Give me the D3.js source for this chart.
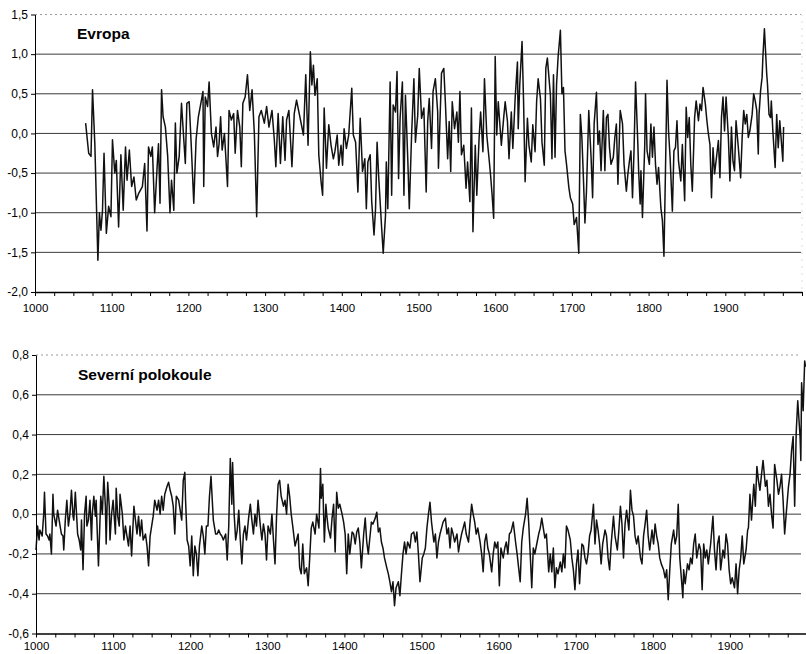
<!DOCTYPE html>
<html lang="cs">
<head>
<meta charset="UTF-8">
<title>Evropa / Severní polokoule</title>
<script src="https://d3js.org/d3.v7.min.js"></script>
<style>
  body { margin: 0; background: #fff; }
  svg { display: block; font-family: Arial, "Liberation Sans", sans-serif; }
  .grid line { stroke: #3a3a3a; stroke-width: 1; }
  .axis path, .axis line { stroke: #000; }
  .axis text { fill: #000; }
  .series { fill: none; stroke: #111; stroke-width: 1.5; stroke-linejoin: round; }
  .title { font-weight: bold; font-size: 15.5px; fill: #000; }
</style>
</head>
<body>
<svg width="806" height="654"></svg>
<script>
// --- data ---
const evropaYears = [1066,1070,1073,1075,1078,1082,1084,1086,1088,1090,1093,1096,1099,1101,1104,1106,1109,1112,1115,1118,1120,1123,1126,1129,1132,1135,1140,1143,1146,1148,1151,1153,1156,1159,1161,1163,1165,1167,1170,1173,1176,1178,1181,1183,1185,1188,1191,1194,1196,1198,1201,1204,1207,1210,1213,1217,1219,1220,1222,1225,1227,1230,1233,1236,1238,1240,1242,1244,1247,1251,1253,1256,1259,1261,1264,1267,1269,1271,1274,1277,1280,1283,1286,1289,1292,1295,1299,1302,1305,1309,1312,1314,1317,1320,1323,1326,1328,1331,1335,1338,1341,
  1350,1353,1356,1359,1361,1363,1365,1368,1370,1373,1375,1377,1380,1383,1386,1389,1391,1394,1396,1399,1401,1403,1406,1409,1413,1415,1418,1421,1424,1427,1430,1432,1434,1437,1439,1442,1444,1446,1448,1452,1454,1457,1458,1460,1463,1465,1467,1470,1472,1474,1476,1479,1481,1483,1486,1488,1491,1494,1496,1499,1501,1504,1507,1510,1512,1514,1517,1519,1522,1525,1526,1530,1533,1535,1538,1540,1542,1544,1547,1550,1552,1554,1556,1559,1562,1564,1567,1569,1571,1574,1576,1579,1581,1584,1586,1589,1592,1594,1596,1598,1600,1602,1604,1608,1611,1613,1616,1618,1621,1623,1626,1629,1630,1632,1635,1637,1639,1642,1644,1647,1649,1652,1654,1656,1659,1661,1664,1666,1668,
  1672,1674,1676,1678,1680,1682,1685,1687,1689,1691,1693,1696,1698,1701,1703,1706,1709,1711,1713,1715,1717,1719,1722,1723,1725,1727,1729,1732,1734,1736,1738,1741,1743,1745,1747,1749,1751,1754,1756,1758,1760,1763,1766,1768,1771,1773,1775,1777,1779,1781,1783,1786,1787,1789,1790,1792,1795,1796,1798,1801,1803,1805,1807,1809,1811,1813,1816,1818,1820,1822,1824,1826,1828,1831,1833,1835,1837,1839,1842,1844,1847,1849,1851,1853,1855,1857,1860,1862,1865,1867,1869,1871,1874,1876,1878,1880,1882,1884,1886,1889,1891,1893,1895,1897,1899,1901,1904,1906,1908,1910,1912,1914,1917,1920,1922,1924,1926,1928,1930,1932,1935,1937,1939,1941,1943,1944,1946,1948,1949,1951,1954,1955,1957,1959,1960,1962,1965,1967,1969,1971,1973,1975,1976];
const evropaValues = [0.13,-0.25,-0.29,0.55,-0.13,-1.6,-1.0,-1.22,-0.97,-0.25,-1.26,-0.92,-1.05,-0.08,-0.5,-0.34,-1.18,-0.27,-0.97,-0.17,-0.59,-0.21,-0.67,-0.55,-0.84,-0.76,-0.67,-0.38,-1.23,-0.17,-0.29,-0.17,-1.0,-0.46,-0.13,-0.88,0.55,0.21,0.08,-0.29,-1.0,-0.59,-0.97,0.13,-0.5,-0.29,0.38,-0.08,-0.38,0.38,0.4,-0.21,-0.88,-0.08,0.21,0.42,0.53,-0.67,0.46,0.34,0.65,0.0,-0.17,0.08,-0.29,-0.13,0.21,-0.21,0.0,-0.67,0.29,0.17,0.25,-0.25,0.29,0.08,-0.42,0.38,0.46,0.74,0.29,0.55,0.0,-1.05,0.21,0.29,0.13,0.34,0.08,0.29,-0.08,-0.42,0.25,-0.38,0.21,-0.34,0.17,0.29,-0.42,0.25,0.42,
  -0.02,0.74,-0.15,1.03,0.61,0.86,0.48,0.69,-0.27,-0.61,-0.78,0.32,-0.44,0.11,-0.15,-0.32,-0.23,-0.02,-0.4,-0.15,-0.4,0.06,-0.19,-0.02,0.57,-0.02,-0.11,-0.74,0.19,-0.48,-0.32,-0.95,-0.36,-0.27,-0.86,-1.28,-0.95,-0.11,-0.53,-1.2,-1.51,-1.03,-0.36,-0.95,0.65,-0.78,0.36,0.27,0.78,-0.57,0.19,0.65,-0.78,0.48,-0.32,-0.95,-0.02,0.69,-0.11,0.23,0.82,0.19,0.32,-0.74,0.15,0.44,-0.19,0.53,0.69,0.27,-0.44,0.76,0.82,0.4,-0.32,0.15,-0.48,0.4,0.06,0.27,-0.11,0.53,-0.27,-0.15,-0.69,-0.36,-0.86,0.32,-1.24,-0.15,-0.78,-0.06,0.27,-0.23,0.69,-0.02,-0.32,-0.53,-0.78,-1.07,0.97,-0.02,0.4,-0.15,0.19,0.4,0.15,-0.32,0.27,-0.19,0.44,0.9,0.06,0.61,1.16,0.4,-0.61,0.19,-0.15,-0.36,0.11,-0.23,0.4,0.69,0.44,-0.11,-0.4,0.82,0.95,0.48,-0.32,0.74,
  -0.3,0.62,0.96,1.3,0.5,0.58,-0.22,-0.39,-0.68,-0.81,-0.89,-1.15,-1.06,-1.51,0.24,-0.05,-0.56,-1.13,-0.73,0.29,0.08,-0.3,-0.81,0.12,0.52,-0.14,0.03,-0.47,0.29,-0.47,0.2,0.24,-0.18,-0.39,-0.3,-0.05,0.12,-0.64,0.29,0.12,-0.39,-0.73,-0.51,-0.35,-0.22,-0.81,-0.22,0.65,-0.14,-0.47,-0.89,-0.47,-1.06,-0.14,0.5,-0.22,-0.39,0.12,-0.3,0.08,-0.39,-0.64,-0.43,-0.94,-1.1,-1.55,-0.47,0.67,0.03,-0.3,-0.98,-0.22,-0.18,0.16,-0.35,-0.6,-0.14,-0.85,0.33,-0.05,0.2,-0.39,-0.73,0.2,0.41,0.16,0.37,0.29,0.58,0.37,0.16,-0.01,-0.14,-0.81,-0.18,-0.51,-0.26,-0.09,-0.56,0.2,0.46,0.03,0.46,-0.05,-0.6,0.08,-0.35,-0.47,0.16,-0.18,-0.56,-0.05,0.29,0.12,0.24,-0.05,0.03,0.24,0.5,0.41,0.29,-0.26,0.24,0.54,0.71,0.96,1.32,0.75,0.62,0.24,0.2,0.41,0.03,-0.43,0.24,-0.18,0.16,-0.09,-0.35,0.08,0.67,-0.01,-0.24];

const nhYears = [1000,1002,1004,1005,1008,1010,1011,1013,1015,1017,1018,1020,1022,1023,1026,1028,1030,1033,1035,1036,1038,1040,1042,1044,1046,1048,1049,1051,1054,1056,1058,1059,1061,1063,1065,1066,1068,1070,1072,1073,1075,1077,1078,1081,1083,1084,1086,1088,1090,1091,1093,1095,1096,1098,1100,1103,1104,1106,1108,1109,1112,1114,1116,1118,1120,1122,1124,1127,1129,1131,1133,1135,1137,1139,1142,1144,1146,1148,1150,1152,1154,1157,1159,1161,1163,1165,1167,1170,1172,1174,1176,1178,1180,1182,1185,1187,1189,1191,1193,1194,1196,1198,1200,1202,1204,1206,1208,1210,1212,1215,1217,1219,1221,1223,1225,1227,1230,1233,1235,1237,1239,1241,1243,1246,1248,1250,1252,1254,1255,1257,1259,1261,1263,1265,1267,1269,1271,1273,1276,1278,1280,1282,1284,1286,1288,1291,1293,1295,1297,1299,1301,1304,1306,1308,1310,1312,1314,1316,1318,1321,1323,1325,1327,1329,1331,1333,1336,1338,1340,
  1342,1344,1346,1348,1351,1353,1355,1357,1359,1362,1364,1367,1369,1370,1372,1374,1376,1377,1379,1382,1384,1386,1388,1390,1392,1394,1397,1399,1401,1403,1405,1407,1410,1412,1414,1416,1418,1420,1422,1425,1427,1429,1431,1433,1435,1437,1440,1442,1444,1446,1448,1450,1452,1455,1457,1459,1461,1463,1465,1467,1470,1472,1474,1476,1478,1480,1482,1485,1487,1490,1492,1494,1496,1498,1501,1503,1505,1507,1509,1511,1513,1516,1518,1520,1522,1524,1526,1528,1531,1533,1535,1537,1539,1541,1543,1546,1548,1550,1552,1554,1556,1558,1561,1563,1565,1567,1569,1571,1573,1576,1578,1580,1582,1584,1586,1588,1591,1593,1595,1597,1599,1601,1603,1606,1608,1610,1612,1614,1616,1619,1622,1624,1626,1628,1630,1632,1635,1637,1639,1641,1643,1645,1647,1650,1652,1654,1656,1658,1660,1662,1665,1667,1669,1671,1673,1675,1677,1680,1682,1684,1686,
  1688,1690,1693,1695,1697,1699,1701,1703,1705,1708,1710,1712,1714,1716,1718,1720,1723,1725,1727,1729,1731,1733,1735,1738,1740,1742,1744,1746,1749,1751,1754,1756,1758,1760,1762,1764,1766,1769,1771,1773,1775,1777,1779,1781,1784,1786,1788,1790,1792,1794,1796,1799,1801,1803,1805,1807,1809,1811,1814,1816,1818,1820,1822,1824,1827,1829,1831,1833,1835,1837,1839,1840,1842,1845,1847,1849,1851,1853,1855,1857,1860,1862,1864,1866,1868,1870,1872,1875,1878,1880,1882,1884,1886,1888,1891,1893,1895,1897,1899,1901,1903,1906,1908,1910,1912,1914,1916,1918,1921,1923,1924,1926,1928,1931,1933,1935,1937,1939,1941,1943,1946,1948,1950,1952,1954,1956,1958,1961,1963,1965,1967,1969,1971,1973,1976,1978,1980,1982,1984,1986,1988,1991,1992,1993,1995,1997,1998];
const nhValues = [-0.18,-0.06,-0.13,-0.08,-0.11,0.0,0.11,-0.1,-0.11,-0.13,-0.1,-0.2,0.1,0.0,-0.06,0.02,-0.03,-0.1,-0.11,-0.18,-0.03,0.07,-0.06,0.0,0.12,-0.01,-0.03,0.11,-0.1,-0.13,-0.18,-0.03,-0.28,0.0,0.09,-0.06,-0.03,0.07,-0.13,0.0,0.09,-0.01,0.07,-0.26,-0.03,0.09,0.0,0.19,0.04,-0.15,0.16,0.04,-0.13,0.0,0.07,-0.1,0.13,-0.01,-0.06,0.1,0.0,-0.13,-0.06,-0.11,-0.16,-0.06,-0.21,0.04,-0.03,-0.1,-0.01,-0.11,-0.03,-0.13,-0.1,-0.16,-0.26,-0.11,-0.06,-0.01,0.07,0.02,0.07,0.0,0.09,0.02,0.1,0.14,0.16,0.12,0.09,0.04,-0.1,0.09,0.07,0.02,-0.03,0.17,0.21,0.07,-0.13,-0.16,-0.26,-0.11,-0.31,-0.16,-0.2,-0.31,-0.16,-0.06,-0.11,-0.2,-0.06,-0.06,0.09,0.19,-0.03,-0.1,-0.1,-0.08,-0.1,-0.11,-0.13,-0.1,-0.23,-0.06,0.28,0.05,0.26,0.0,-0.13,-0.08,0.02,-0.13,-0.25,-0.1,-0.06,-0.13,-0.01,0.05,-0.03,-0.1,0.0,-0.06,0.07,-0.06,-0.13,-0.05,-0.1,-0.23,-0.06,-0.1,0.0,-0.13,-0.25,-0.01,0.15,0.17,0.09,0.04,0.07,0.0,0.15,0.09,0.0,-0.06,-0.16,-0.13,-0.1,
  -0.27,-0.3,-0.15,-0.3,-0.27,-0.36,-0.22,-0.07,-0.04,-0.1,0.0,-0.07,0.23,0.08,0.15,-0.14,0.05,0.0,-0.07,-0.12,-0.02,0.05,-0.19,0.11,0.03,0.05,0.0,-0.04,-0.1,-0.3,-0.1,-0.2,-0.09,-0.1,-0.15,-0.09,-0.07,-0.14,-0.27,-0.1,-0.02,-0.14,-0.2,-0.12,-0.04,-0.05,-0.02,0.01,-0.09,-0.07,-0.14,-0.17,-0.22,-0.27,-0.3,-0.34,-0.39,-0.34,-0.46,-0.37,-0.34,-0.41,-0.3,-0.2,-0.14,-0.2,-0.14,-0.17,-0.1,-0.09,-0.14,-0.09,-0.2,-0.34,-0.22,-0.2,-0.17,-0.07,0.0,0.06,-0.04,-0.14,-0.1,-0.22,-0.14,-0.1,-0.07,-0.04,-0.02,-0.1,-0.07,-0.17,-0.07,-0.1,-0.14,-0.1,-0.19,-0.14,-0.1,-0.07,-0.04,-0.1,-0.14,-0.04,0.05,0.0,-0.04,-0.1,-0.07,-0.14,-0.2,-0.29,-0.14,-0.1,-0.17,-0.2,-0.29,-0.2,-0.14,-0.17,-0.14,-0.36,-0.17,-0.22,-0.17,-0.14,-0.2,-0.1,-0.09,-0.04,-0.14,-0.2,-0.27,-0.34,-0.14,-0.07,0.0,0.08,-0.04,-0.2,-0.37,-0.17,-0.2,-0.14,-0.1,-0.07,-0.02,-0.07,-0.12,-0.1,-0.29,-0.2,-0.29,-0.17,-0.37,-0.27,-0.3,-0.24,-0.29,-0.2,-0.27,
  -0.06,-0.08,-0.13,-0.22,-0.28,-0.38,-0.25,-0.18,-0.35,-0.15,-0.16,-0.22,-0.25,-0.2,-0.11,-0.08,0.05,-0.15,-0.03,-0.08,-0.15,-0.25,-0.15,-0.08,-0.11,-0.22,-0.28,-0.15,-0.01,-0.11,-0.18,-0.08,0.04,-0.05,-0.22,-0.05,0.02,-0.08,0.12,0.02,-0.01,-0.11,-0.15,-0.11,-0.22,-0.25,-0.11,-0.05,0.02,-0.11,-0.18,-0.08,-0.15,-0.05,-0.11,-0.15,-0.22,-0.25,-0.28,-0.32,-0.28,-0.43,-0.28,-0.15,-0.08,-0.15,-0.11,0.05,-0.22,-0.32,-0.42,-0.28,-0.35,-0.25,-0.28,-0.22,-0.25,-0.15,-0.1,-0.22,-0.15,-0.18,-0.38,-0.15,-0.22,-0.18,-0.25,-0.15,-0.01,-0.18,-0.28,-0.15,-0.11,-0.28,-0.18,-0.22,-0.1,-0.15,-0.28,-0.35,-0.32,-0.37,-0.25,-0.4,-0.28,-0.22,-0.11,-0.25,-0.18,-0.08,-0.07,0.1,-0.03,0.15,0.04,0.24,0.17,0.12,0.2,0.27,0.14,0.17,0.04,0.1,0.0,-0.07,0.25,0.17,0.1,0.14,0.2,0.07,-0.1,0.0,0.14,0.2,0.32,0.39,0.04,0.41,0.57,0.39,0.27,0.66,0.52,0.77,0.74];

const evropaTicks = [1.5, 1.0, 0.5, 0.0, -0.5, -1.0, -1.5, -2.0];
const nhTicks = [0.8, 0.6, 0.4, 0.2, 0.0, -0.2, -0.4, -0.6];
const yearLabels = [1000, 1100, 1200, 1300, 1400, 1500, 1600, 1700, 1800, 1900];
const yearTicks = d3.range(1000, 2001, 25);

const panels = [
  { title: "Evropa", years: evropaYears, values: evropaValues, yTicks: evropaTicks,
    left: 35, right: 802, top: 14.5, bottom: 292, titleX: 77, titleY: 39, labelY: 12 },
  { title: "Severní polokoule", years: nhYears, values: nhValues, yTicks: nhTicks,
    left: 36, right: 807, top: 355, bottom: 633.5, titleX: 78, titleY: 380, labelY: 8 }
];

const svg = d3.select("svg");
svg.append("rect").attr("width", 806).attr("height", 654).attr("fill", "#fff");

const fmt = d => d.toFixed(1).replace(".", ",");

panels.forEach(p => {
  const x = d3.scaleLinear().domain([1000, 2000]).range([p.left, p.right]);
  const y = d3.scaleLinear().domain(d3.extent(p.yTicks)).range([p.bottom, p.top]);
  const yMax = d3.max(p.yTicks), yMin = d3.min(p.yTicks);

  // gridlines (inner ones solid, top edge faint dotted)
  svg.append("g").attr("class", "grid")
    .selectAll("line")
    .data(p.yTicks.filter(t => t !== yMin))
    .enter().append("line")
    .attr("x1", p.left).attr("x2", Math.min(p.right, 801))
    .attr("y1", d => y(d)).attr("y2", d => y(d))
    .style("stroke", d => d === yMax ? "#9a9a9a" : null)
    .style("stroke-dasharray", d => d === yMax ? "2,3" : null);

  // faint right border
  if (p.right < 806) {
    svg.append("line")
      .attr("x1", p.right).attr("x2", p.right)
      .attr("y1", p.top).attr("y2", p.bottom)
      .attr("stroke", "#bbb").attr("stroke-dasharray", "1,6");
  }

  const line = d3.line()
    .x((d, i) => x(p.years[i]))
    .y(d => y(d));

  svg.append("path")
    .datum(p.values)
    .attr("class", "series")
    .attr("d", line);

  const yAxis = svg.append("g")
    .attr("class", "axis")
    .attr("transform", `translate(${p.left},0)`)
    .call(d3.axisLeft(y).tickValues(p.yTicks).tickSize(4).tickSizeOuter(0).tickPadding(3).tickFormat(fmt));
  yAxis.selectAll("text").style("font-size", "12px");

  const xAxis = svg.append("g")
    .attr("class", "axis")
    .attr("transform", `translate(0,${p.bottom})`)
    .call(d3.axisBottom(x).tickValues(yearTicks).tickSize(4).tickSizeOuter(0)
      .tickFormat(d => yearLabels.includes(d) ? d : ""));
  xAxis.select(".domain").attr("stroke-width", 1.5);
  xAxis.selectAll("text").attr("y", p.labelY).style("font-size", "11.5px");

  svg.append("text")
    .attr("class", "title")
    .attr("x", p.titleX)
    .attr("y", p.titleY)
    .text(p.title);
});
</script>
</body>
</html>
